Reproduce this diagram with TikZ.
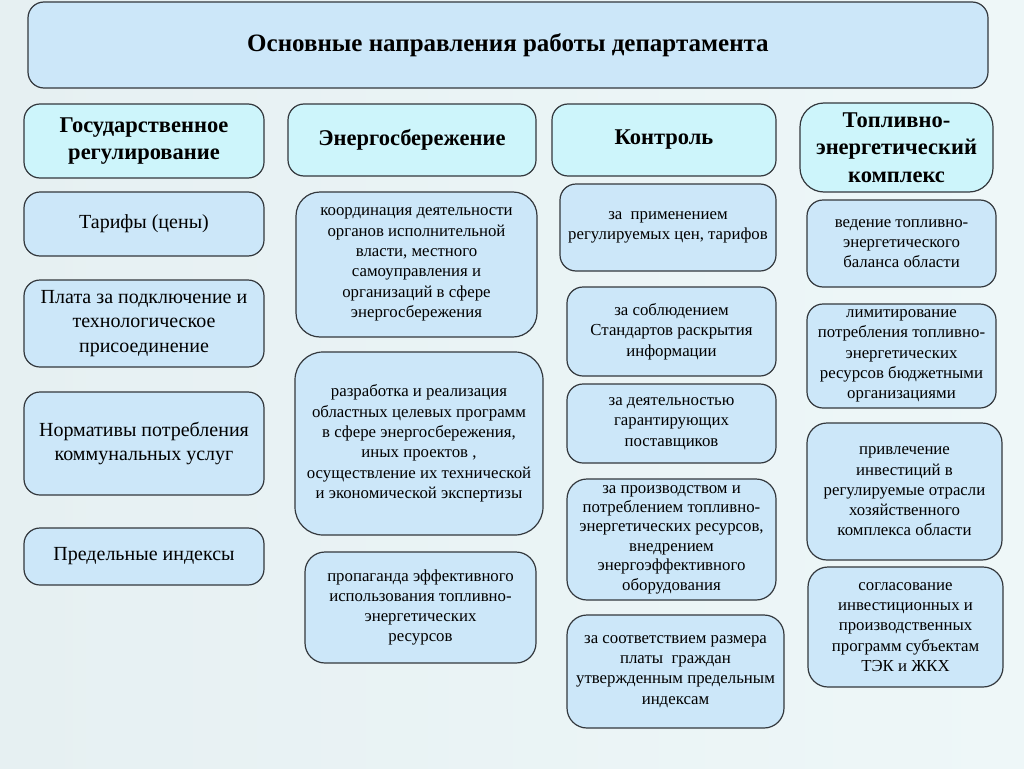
\documentclass[tikz,border=0pt]{standalone}
\usepackage{fontspec}
\setmainfont{Liberation Serif}
\usetikzlibrary{positioning}
\definecolor{fonL}{HTML}{E6F0F2}
\definecolor{fonR}{HTML}{EEF7F8}
\definecolor{zalivka}{HTML}{CCE7F9}
\definecolor{shapka}{HTML}{CDF5FB}
\definecolor{kontur}{HTML}{33383D}

\begin{document}
\begin{tikzpicture}[x=1pt,y=-1pt,
		base/.style={draw=kontur, line width=1.2pt, rounded corners=16pt, inner sep=0pt, align=center},
		titul/.style={base, fill=zalivka, font=\fontsize{25}{30}\selectfont\bfseries},
		rubric/.style={base, fill=shapka, font=\fontsize{22.5}{27.5}\selectfont\bfseries},
		punkt/.style={base, fill=zalivka, font=\fontsize{16.8}{20.3}\selectfont},
		punktL/.style={base, fill=zalivka, font=\fontsize{20}{24.5}\selectfont}]
		\shade[left color=fonL, right color=fonR] (0,0) rectangle (1024,768);
		\useasboundingbox (0,0) rectangle (1024,768);
		% zagolovok
		\node[titul, minimum width=960, minimum height=86] (osn) at (508,45) {Основные направления работы департамента};
		% rubriki
		\node[rubric, minimum width=240, minimum height=74] (gos) at (144,141) {Государственное\\регулирование};
		\node[rubric, minimum width=248, minimum height=72] (energ) at (412,140) {Энергосбережение};
		\node[rubric, minimum width=224, minimum height=72] (kontr) at (664,140) {Контроль};
		\node[rubric, minimum width=193, minimum height=89, rounded corners=24pt] (tek) at (896.5,147.5) {Топливно-\\энергетический\\комплекс};
		%% gosudarstvennoe regulirovanie
		\node[punktL, minimum width=240, minimum height=64] (gos-1) at (144,224) {Тарифы (цены)};
		\node[punktL, minimum width=240, minimum height=87] (gos-2) at (144,323.5) {Плата за подключение и\\технологическое\\присоединение};
		\node[punktL, minimum width=240, minimum height=103] (gos-3) at (144,443.5) {Нормативы потребления\\коммунальных услуг};
		\node[punktL, minimum width=240, minimum height=57] (gos-4) at (144,556.5) {Предельные индексы};
		%% energosberezhenie
		\node[punkt, minimum width=241, minimum height=145, rounded corners=24pt] (energ-1) at (416.5,264.5) {координация деятельности\\органов исполнительной\\власти, местного\\самоуправления и\\организаций в сфере\\энергосбережения};
		\node[punkt, minimum width=248, minimum height=183, rounded corners=28pt] (energ-2) at (419,443.5) {разработка и реализация\\областных целевых программ\\в сфере энергосбережения,\\иных проектов ,\\осуществление их технической\\и экономической экспертизы};
		\node[punkt, minimum width=231, minimum height=111, rounded corners=20pt] (energ-3) at (420.5,607.5) {пропаганда эффективного\\использования топливно-\\энергетических\\ресурсов};
		%% kontrol
		\node[punkt, minimum width=216, minimum height=87] (kontr-1) at (668,227.5) {за\ \ применением\\регулируемых цен, тарифов};
		\node[punkt, minimum width=209, minimum height=89] (kontr-2) at (671.5,331.5) {за соблюдением\\Стандартов раскрытия\\информации};
		\node[punkt, minimum width=209, minimum height=79] (kontr-3) at (671.5,423.5) {за деятельностью\\гарантирующих\\поставщиков};
		\node[punkt, minimum width=209, minimum height=121, rounded corners=20pt, font=\fontsize{16.8}{19.4}\selectfont] (kontr-4) at (671.5,539.5) {за производством и\\потреблением топливно-\\энергетических ресурсов,\\внедрением\\энергоэффективного\\оборудования};
		\node[punkt, minimum width=217, minimum height=113, rounded corners=20pt] (kontr-5) at (675.5,671.5) {за соответствием размера\\платы\ \ граждан\\утвержденным предельным\\индексам};
		%% TEK
		\node[punkt, minimum width=189, minimum height=87] (tek-1) at (901.5,243.5) {ведение топливно-\\энергетического\\баланса области};
		\node[punkt, minimum width=189, minimum height=104] (tek-2) at (901.5,356) {лимитирование\\потребления топливно-\\энергетических\\ресурсов бюджетными\\организациями};
		\node[punkt, minimum width=195, minimum height=137, rounded corners=20pt] (tek-3) at (904.5,491.5) {привлечение\\инвестиций в\\регулируемые отрасли\\хозяйственного\\комплекса области};
		\node[punkt, minimum width=195, minimum height=120, rounded corners=20pt] (tek-4) at (905.5,627) {согласование\\инвестиционных и\\производственных\\программ субъектам\\ТЭК и ЖКХ};
	\end{tikzpicture}
\end{document}
